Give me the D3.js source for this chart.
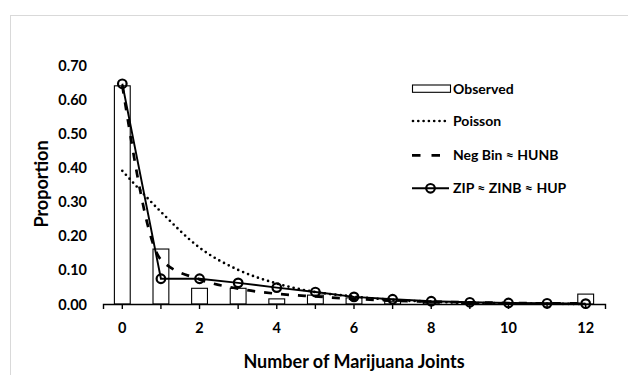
<!DOCTYPE html>
<html>
<head>
<meta charset="utf-8">
<script src="https://cdn.jsdelivr.net/npm/d3@7"></script>
<style>
  html, body { margin: 0; padding: 0; background: #fff; }
  svg { display: block; }
  text { font-family: Lato, "Open Sans", sans-serif; font-weight: bold; fill: #000; }
</style>
</head>
<body>
<svg id="chart" width="628" height="375"></svg>
<script>
const categories = [0,1,2,3,4,5,6,7,8,9,10,11,12];
const observed = [0.639,0.161,0.046,0.046,0.015,0.026,0.018,0.008,0.004,0.003,0.002,0.002,0.029];
const poisson  = [0.39,0.27,0.165,0.10,0.06,0.035,0.022,0.012,0.007,0.003,0.002,0.001,0.0];
const negBin   = [0.64,0.13,0.072,0.045,0.030,0.022,0.015,0.010,0.007,0.005,0.003,0.002,0.002];
const zip      = [0.645,0.074,0.074,0.062,0.048,0.035,0.021,0.014,0.008,0.005,0.003,0.002,0.001];
const yTicks = [0,0.1,0.2,0.3,0.4,0.5,0.6,0.7];
const xTickLabels = [0,2,4,6,8,10,12];
const legendLabels = ["Observed","Poisson","Neg Bin \u2248 HUNB","ZIP \u2248 ZINB \u2248 HUP"];

const svg = d3.select("#chart");

// outer light border
svg.append("rect").attr("x",10.5).attr("y",15.5).attr("width",700).attr("height",500)
  .attr("fill","none").attr("stroke","#d9d9d9").attr("stroke-width",1);

const x = d3.scaleBand().domain(categories).range([103,605]).padding(0);
const cx = d => x(d) + x.bandwidth()/2;
const y = d3.scaleLinear().domain([0,0.7]).range([304,65]);

// bars
const barW = x.bandwidth()*0.41;
svg.append("g").selectAll("rect").data(categories).join("rect")
  .attr("x", d => cx(d) - barW/2)
  .attr("y", (d,i) => y(observed[i]))
  .attr("width", barW)
  .attr("height", (d,i) => y(0) - y(observed[i]))
  .attr("fill","#fff").attr("stroke","#000").attr("stroke-width",1.1);

// x axis
const xAxis = d3.axisBottom(x).tickSize(5).tickSizeOuter(5)
  .tickFormat(d => xTickLabels.includes(d) ? d : "");
const gx = svg.append("g").attr("transform","translate(0,304)").call(xAxis);
gx.select(".domain").attr("stroke","#000").attr("stroke-width",1.4);
gx.selectAll(".tick line").attr("stroke","#000").attr("stroke-width",1.4);
gx.selectAll("text").attr("font-size",14.5).attr("y",24).attr("dy","0.35em")
  .style("font-family","Lato, sans-serif").style("font-weight","bold").attr("fill","#000");

// y axis (labels only)
const yAxis = d3.axisLeft(y).tickValues(yTicks).tickSize(0).tickPadding(3).tickFormat(d3.format(".2f"));
const gy = svg.append("g").attr("transform","translate(90,0)").call(yAxis);
gy.select(".domain").remove();
gy.selectAll("text").attr("font-size",14.5).attr("dy","0.35em")
  .style("font-family","Lato, sans-serif").style("font-weight","bold").attr("fill","#000");

// lines
const lineSmooth = d3.line().x((d,i) => cx(categories[i])).y(d => y(d)).curve(d3.curveMonotoneX);
const lineStraight = d3.line().x((d,i) => cx(categories[i])).y(d => y(d));

svg.append("path").attr("d", lineSmooth(poisson)).attr("fill","none")
  .attr("stroke","#000").attr("stroke-width",2.7).attr("stroke-linecap","round")
  .attr("stroke-dasharray","0,5.3");
svg.append("path").attr("d", lineSmooth(negBin)).attr("fill","none")
  .attr("stroke","#000").attr("stroke-width",2.7).attr("stroke-dasharray","8,9");
svg.append("path").attr("d", lineStraight(zip)).attr("fill","none")
  .attr("stroke","#000").attr("stroke-width",1.9);
svg.append("g").selectAll("circle").data(zip).join("circle")
  .attr("cx",(d,i) => cx(categories[i])).attr("cy", d => y(d)).attr("r",4.3)
  .attr("fill","none").attr("stroke","#000").attr("stroke-width",2.2);

// axis titles
svg.append("text").attr("x",354).attr("y",362).attr("dy","0.35em").attr("text-anchor","middle")
  .attr("font-size",18).text("Number of Marijuana Joints");
svg.append("text").attr("transform","translate(42,184) rotate(-90)").attr("dy","0.35em")
  .attr("text-anchor","middle").attr("font-size",18).text("Proportion");

// legend
const lg = svg.append("g");
const rowsY = [88.7,121,155.3,188.3];
lg.append("rect").attr("x",412.5).attr("y",85).attr("width",38).attr("height",7.3)
  .attr("fill","#fff").attr("stroke","#000").attr("stroke-width",1.1);
lg.append("line").attr("x1",413).attr("x2",449).attr("y1",rowsY[1]).attr("y2",rowsY[1])
  .attr("stroke","#000").attr("stroke-width",2.7).attr("stroke-linecap","round").attr("stroke-dasharray","0,5.3");
lg.append("line").attr("x1",412).attr("x2",449).attr("y1",rowsY[2]).attr("y2",rowsY[2])
  .attr("stroke","#000").attr("stroke-width",2.7).attr("stroke-dasharray","8.5,11");
lg.append("line").attr("x1",412).attr("x2",449).attr("y1",rowsY[3]).attr("y2",rowsY[3])
  .attr("stroke","#000").attr("stroke-width",1.9);
lg.append("circle").attr("cx",430.5).attr("cy",rowsY[3]).attr("r",4.3)
  .attr("fill","none").attr("stroke","#000").attr("stroke-width",2.2);
lg.selectAll("text.leg").data(legendLabels).join("text").attr("class","leg")
  .attr("x",453).attr("y",(d,i) => rowsY[i]).attr("dy","0.35em").attr("font-size",14)
  .text(d => d);
</script>
</body>
</html>
